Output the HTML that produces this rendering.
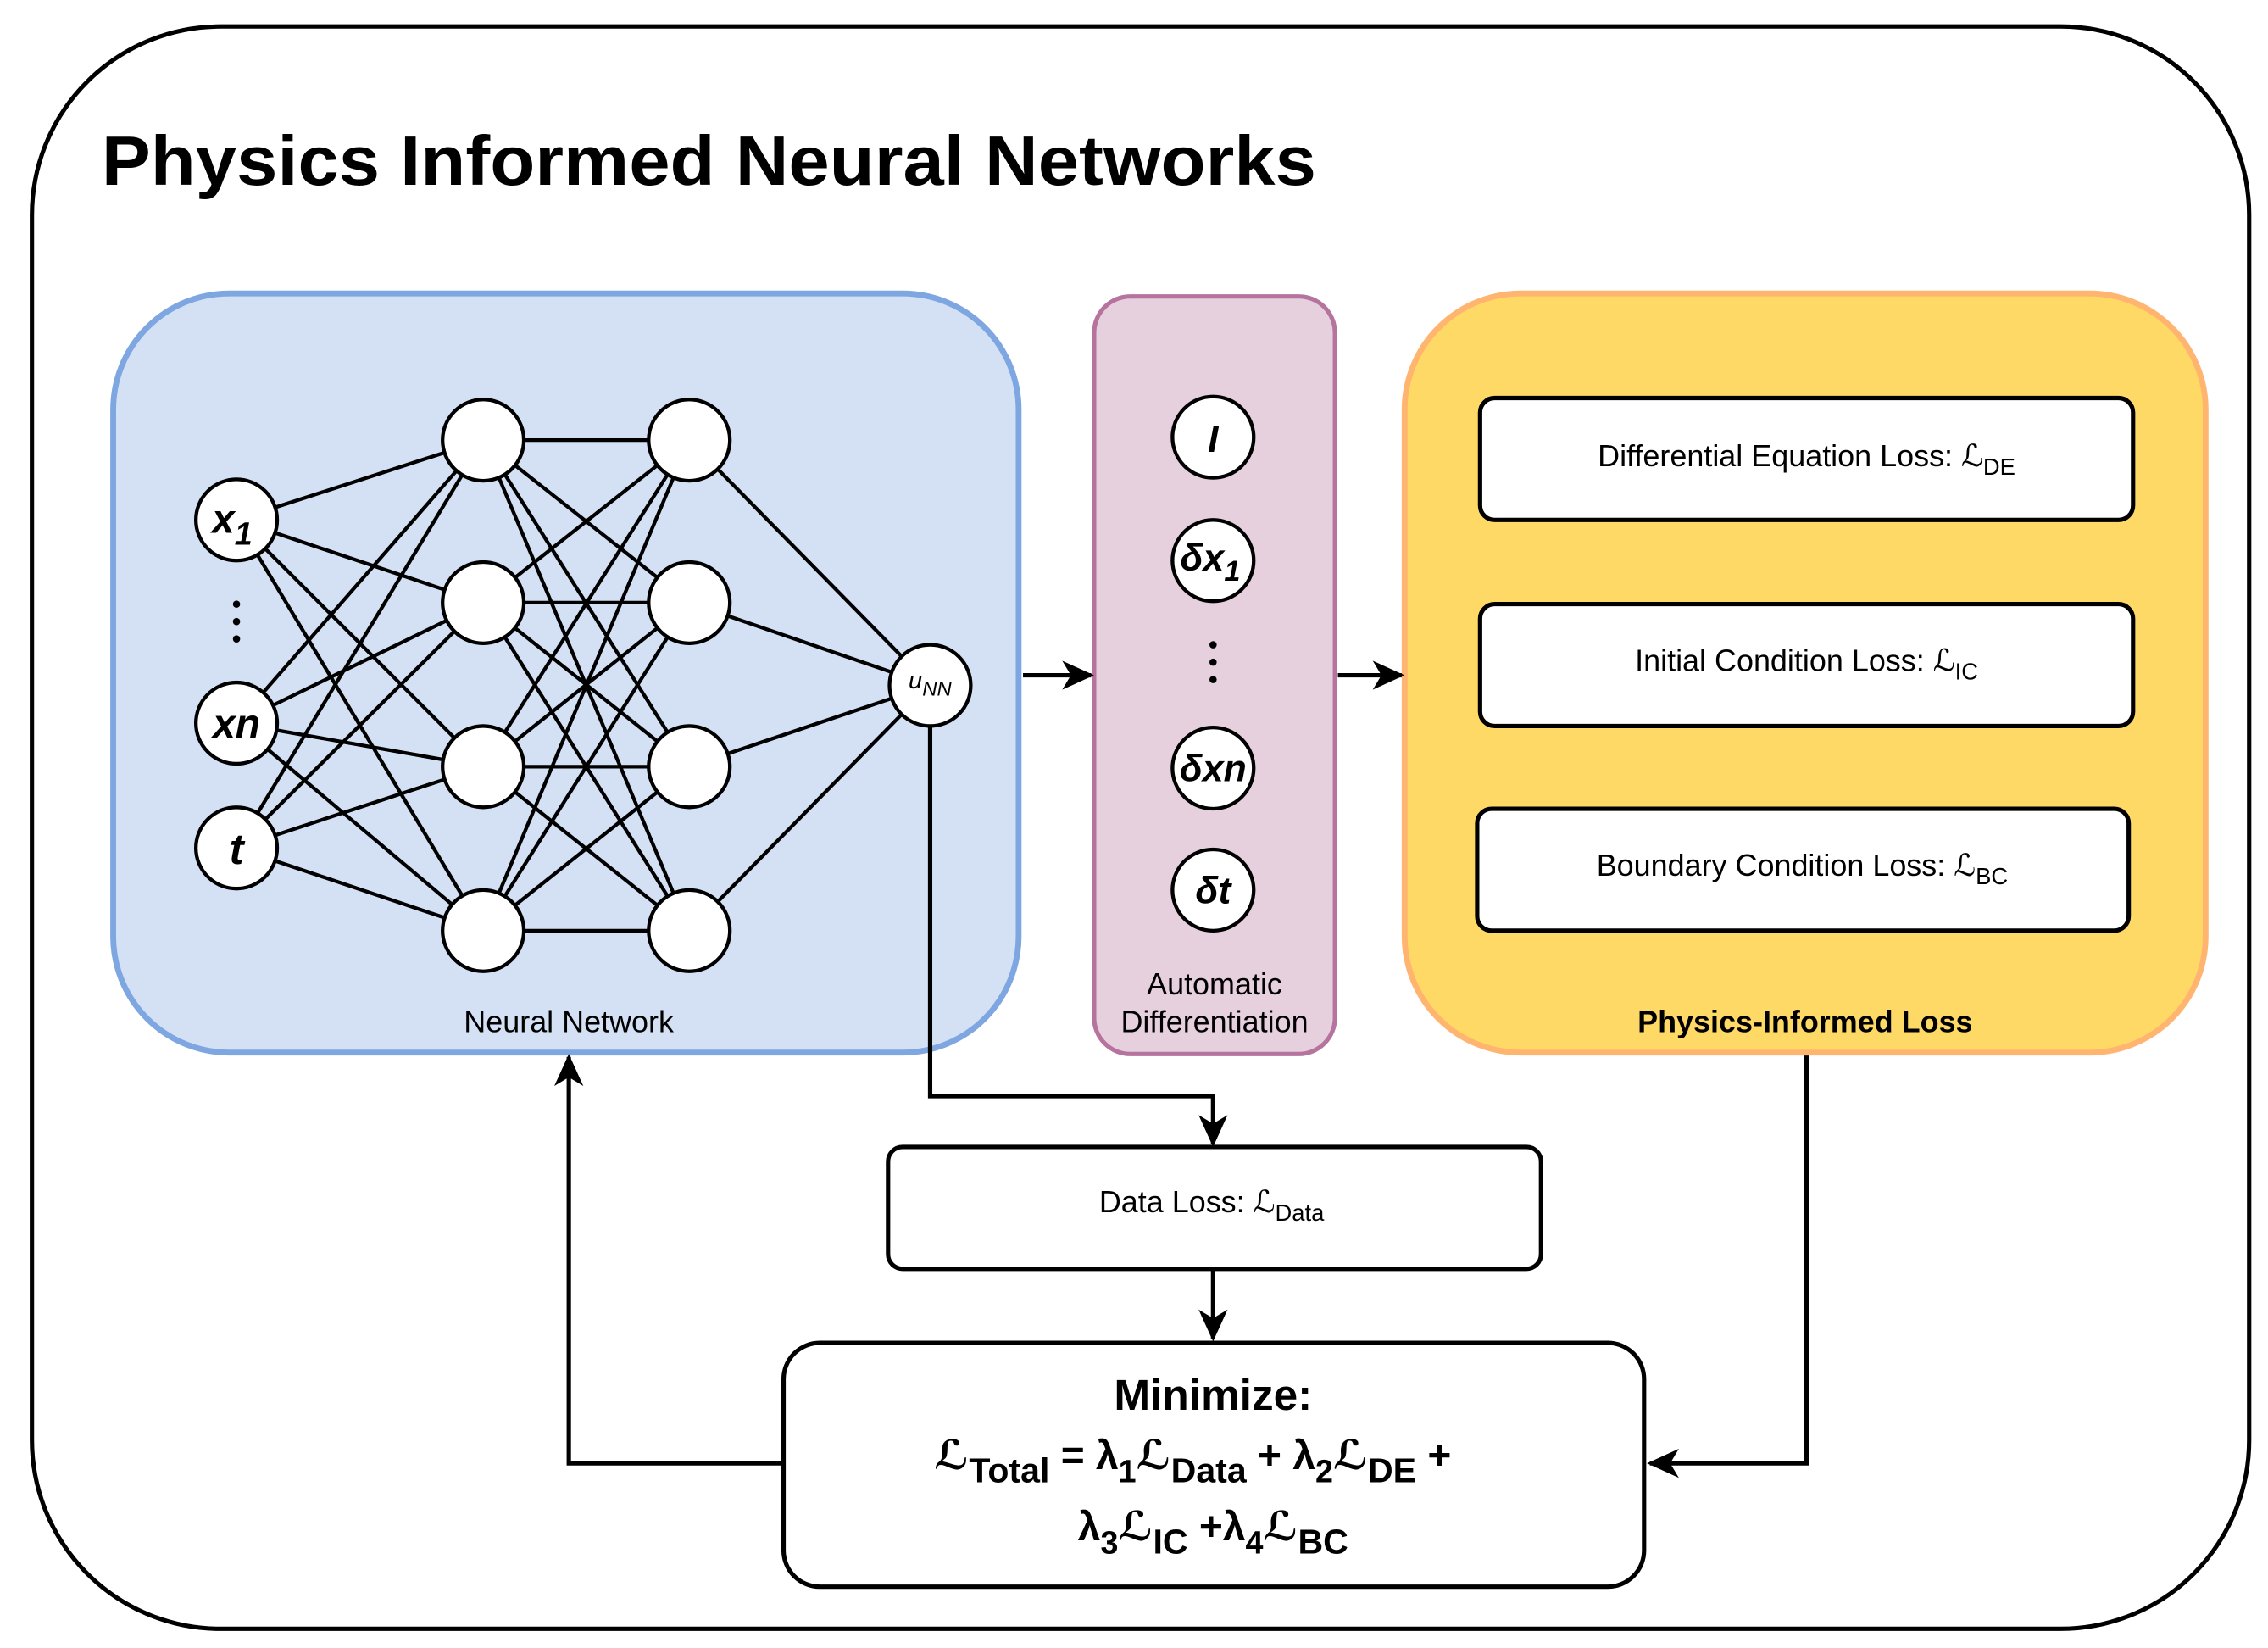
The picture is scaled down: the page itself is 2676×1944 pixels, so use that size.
<!DOCTYPE html>
<html><head><meta charset="utf-8"><style>
html,body{margin:0;padding:0;background:#fff;}
svg{display:block;}
text{font-family:"Liberation Sans","DejaVu Sans",sans-serif;}
</style></head><body>
<svg width="2676" height="1944" viewBox="0 0 1563 1135" xmlns="http://www.w3.org/2000/svg">
<defs>
<marker id="ah" markerWidth="22" markerHeight="22" refX="20" refY="11" orient="auto" markerUnits="userSpaceOnUse" viewBox="0 0 22 22">
<path d="M0,1 L22,11 L0,21 L6,11 z" fill="#000"/>
</marker>
</defs>
<rect x="22" y="18" width="1528" height="1104" rx="130" fill="#fff" stroke="#000" stroke-width="3"/>
<text x="70" y="127" font-size="48" font-weight="bold" textLength="837" lengthAdjust="spacingAndGlyphs">Physics Informed Neural Networks</text>

<rect x="78" y="202" width="624" height="523" rx="80" fill="#d4e1f5" stroke="#7ea6e0" stroke-width="4"/>
<text x="392" y="711" font-size="21" text-anchor="middle">Neural Network</text>

<g stroke="#000" stroke-width="2.5">
<line x1="163" y1="358" x2="333" y2="303"/><line x1="163" y1="358" x2="333" y2="415"/><line x1="163" y1="358" x2="333" y2="528"/><line x1="163" y1="358" x2="333" y2="641"/>
<line x1="163" y1="498" x2="333" y2="303"/><line x1="163" y1="498" x2="333" y2="415"/><line x1="163" y1="498" x2="333" y2="528"/><line x1="163" y1="498" x2="333" y2="641"/>
<line x1="163" y1="584" x2="333" y2="303"/><line x1="163" y1="584" x2="333" y2="415"/><line x1="163" y1="584" x2="333" y2="528"/><line x1="163" y1="584" x2="333" y2="641"/>
<line x1="333" y1="303" x2="475" y2="303"/><line x1="333" y1="303" x2="475" y2="415"/><line x1="333" y1="303" x2="475" y2="528"/><line x1="333" y1="303" x2="475" y2="641"/>
<line x1="333" y1="415" x2="475" y2="303"/><line x1="333" y1="415" x2="475" y2="415"/><line x1="333" y1="415" x2="475" y2="528"/><line x1="333" y1="415" x2="475" y2="641"/>
<line x1="333" y1="528" x2="475" y2="303"/><line x1="333" y1="528" x2="475" y2="415"/><line x1="333" y1="528" x2="475" y2="528"/><line x1="333" y1="528" x2="475" y2="641"/>
<line x1="333" y1="641" x2="475" y2="303"/><line x1="333" y1="641" x2="475" y2="415"/><line x1="333" y1="641" x2="475" y2="528"/><line x1="333" y1="641" x2="475" y2="641"/>
<line x1="475" y1="303" x2="641" y2="472"/><line x1="475" y1="415" x2="641" y2="472"/><line x1="475" y1="528" x2="641" y2="472"/><line x1="475" y1="641" x2="641" y2="472"/>
</g>
<g fill="#fff" stroke="#000" stroke-width="2.5">
<circle cx="163" cy="358" r="28"/><circle cx="163" cy="498" r="28"/><circle cx="163" cy="584" r="28"/>
<circle cx="333" cy="303" r="28"/><circle cx="333" cy="415" r="28"/><circle cx="333" cy="528" r="28"/><circle cx="333" cy="641" r="28"/>
<circle cx="475" cy="303" r="28"/><circle cx="475" cy="415" r="28"/><circle cx="475" cy="528" r="28"/><circle cx="475" cy="641" r="28"/>
<circle cx="641" cy="472" r="28"/>
</g>
<g font-weight="bold" font-style="italic" text-anchor="middle">
<text x="160" y="367" font-size="28">x<tspan font-size="22" dy="8">1</tspan></text>
<text x="163" y="508" font-size="28">xn</text>
<text x="163" y="595" font-size="30">t</text>
</g>
<text x="641" y="474" font-size="17" font-style="italic" text-anchor="middle">u<tspan font-size="14" dy="5">NN</tspan></text>
<g fill="#000"><circle cx="163" cy="416" r="2.5"/><circle cx="163" cy="428" r="2.5"/><circle cx="163" cy="440" r="2.5"/></g>

<rect x="754" y="204" width="166" height="522" rx="25" fill="#e6d0de" stroke="#b5739d" stroke-width="3"/>
<g fill="#fff" stroke="#000" stroke-width="2.5">
<circle cx="836" cy="301" r="28"/><circle cx="836" cy="386" r="28"/><circle cx="836" cy="529" r="28"/><circle cx="836" cy="613" r="28"/>
</g>
<g fill="#000"><circle cx="836" cy="444" r="2.5"/><circle cx="836" cy="456" r="2.5"/><circle cx="836" cy="468" r="2.5"/></g>
<g font-weight="bold" font-style="italic" text-anchor="middle" font-size="26">
<text x="836" y="311">I</text>
<text x="834" y="393">δx<tspan font-size="20" dy="7">1</tspan></text>
<text x="836" y="538">δxn</text>
<text x="836" y="622">δt</text>
</g>
<text x="837" y="685" font-size="21" text-anchor="middle">Automatic</text>
<text x="837" y="711" font-size="21" text-anchor="middle">Differentiation</text>

<rect x="968" y="202" width="552" height="523" rx="80" fill="#ffd966" stroke="#ffb570" stroke-width="4"/>
<g fill="#fff" stroke="#000" stroke-width="3">
<rect x="1020" y="274" width="450" height="84" rx="10"/>
<rect x="1020" y="416" width="450" height="84" rx="10"/>
<rect x="1018" y="557" width="449" height="84" rx="10"/>
<rect x="612" y="790" width="450" height="84" rx="10"/>
<rect x="540" y="925" width="593" height="168" rx="25"/>
</g>
<g font-size="21" text-anchor="middle">
<text x="1245" y="321">Differential Equation Loss: <tspan font-style="italic">ℒ</tspan><tspan font-size="16" dy="6">DE</tspan></text>
<text x="1245" y="462">Initial Condition Loss: <tspan font-style="italic">ℒ</tspan><tspan font-size="16" dy="6">IC</tspan></text>
<text x="1242" y="603">Boundary Condition Loss: <tspan font-style="italic">ℒ</tspan><tspan font-size="16" dy="6">BC</tspan></text>
<text x="835" y="835">Data Loss: <tspan font-style="italic">ℒ</tspan><tspan font-size="16" dy="6">Data</tspan></text>
</g>
<text x="1244" y="711" font-size="21" font-weight="bold" text-anchor="middle">Physics-Informed Loss</text>
<g font-weight="bold" text-anchor="middle">
<text x="836" y="971" font-size="30">Minimize:</text>
<text x="822" y="1012" font-size="28"><tspan font-style="italic">ℒ</tspan><tspan font-size="24" dy="9">Total</tspan><tspan dy="-9"> = λ</tspan><tspan font-size="22" dy="9">1</tspan><tspan font-style="italic" dy="-9">ℒ</tspan><tspan font-size="24" dy="9">Data</tspan><tspan dy="-9">  + λ</tspan><tspan font-size="22" dy="9">2</tspan><tspan font-style="italic" dy="-9">ℒ</tspan><tspan font-size="24" dy="9">DE</tspan><tspan dy="-9"> +</tspan></text>
<text x="836" y="1061" font-size="28">λ<tspan font-size="22" dy="9">3</tspan><tspan font-style="italic" dy="-9">ℒ</tspan><tspan font-size="24" dy="9">IC</tspan><tspan dy="-9"> +λ</tspan><tspan font-size="22" dy="9">4</tspan><tspan font-style="italic" dy="-9">ℒ</tspan><tspan font-size="24" dy="9">BC</tspan></text>
</g>

<g stroke="#000" stroke-width="3" fill="none" marker-end="url(#ah)">
<line x1="705" y1="465" x2="752" y2="465"/>
<line x1="922" y1="465" x2="966" y2="465"/>
<polyline points="641,500 641,755 836,755 836,788"/>
<line x1="836" y1="874" x2="836" y2="922"/>
<polyline points="1245,727 1245,1008 1137,1008"/>
<polyline points="540,1008 392,1008 392,728"/>
</g>
</svg>
</body></html>
